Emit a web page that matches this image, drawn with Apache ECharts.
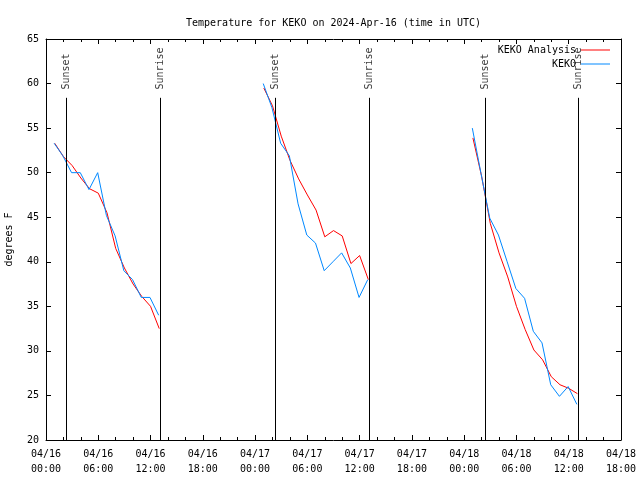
<!DOCTYPE html>
<html><head><meta charset="utf-8">
<script src="https://cdn.jsdelivr.net/npm/echarts@6/dist/echarts.min.js"></script>
<style>html,body{margin:0;padding:0;background:#fff}#c{width:640px;height:480px}</style>
</head><body><div id="c"></div>
<script>
// ---- data (times in UTC, "MM/DD HH:MM") ----
const analysisTimes = [
  ['04/16 01:00','04/16 02:00','04/16 03:00','04/16 04:00','04/16 05:00','04/16 06:00','04/16 07:00','04/16 08:00','04/16 09:00','04/16 10:00','04/16 11:00','04/16 12:00','04/16 13:00'],
  ['04/17 01:00','04/17 02:00','04/17 03:00','04/17 04:00','04/17 05:00','04/17 06:00','04/17 07:00','04/17 08:00','04/17 09:00','04/17 10:00','04/17 11:00','04/17 12:00','04/17 13:00'],
  ['04/18 01:00','04/18 02:00','04/18 03:00','04/18 04:00','04/18 05:00','04/18 06:00','04/18 07:00','04/18 08:00','04/18 09:00','04/18 10:00','04/18 11:00','04/18 12:00','04/18 13:00']
];
const analysisValues = [
  [53.3, 51.8, 50.8, 49.4, 48.2, 47.7, 45.5, 41.5, 39.3, 37.5, 36.1, 35.0, 32.5],
  [59.5, 57.5, 54.1, 51.4, 49.3, 47.5, 45.8, 42.8, 43.5, 42.9, 39.8, 40.7, 38.0],
  [53.9, 49.6, 44.3, 41.0, 38.3, 35.0, 32.4, 30.1, 29.0, 27.1, 26.2, 25.8, 25.2]
];
const obsTimes = [
  ['04/16 00:56','04/16 01:56','04/16 02:56','04/16 03:56','04/16 04:56','04/16 05:56','04/16 06:56','04/16 07:56','04/16 08:56','04/16 09:56','04/16 10:56','04/16 11:56','04/16 12:56'],
  ['04/17 00:56','04/17 01:56','04/17 02:56','04/17 03:56','04/17 04:56','04/17 05:56','04/17 06:56','04/17 07:56','04/17 08:56','04/17 09:56','04/17 10:56','04/17 11:56','04/17 12:56'],
  ['04/18 00:56','04/18 01:56','04/18 02:56','04/18 03:56','04/18 04:56','04/18 05:56','04/18 06:56','04/18 07:56','04/18 08:56','04/18 09:56','04/18 10:56','04/18 11:56','04/18 12:56']
];
const obsValues = [
  [53.3, 51.9, 50.0, 50.0, 48.1, 50.0, 45.2, 42.9, 39.0, 38.0, 36.0, 36.0, 34.0],
  [60.0, 57.3, 53.3, 51.9, 46.5, 43.0, 42.1, 39.0, 40.0, 41.0, 39.3, 36.0, 38.0],
  [55.0, 49.9, 44.9, 43.0, 40.0, 37.0, 35.9, 32.2, 30.9, 26.2, 24.9, 26.0, 24.0]
];
const sunTimes  = ['04/16 02:20','04/16 13:07','04/17 02:19','04/17 13:07','04/18 02:24','04/18 13:06'];
const sunLabels = ['Sunset','Sunrise','Sunset','Sunrise','Sunset','Sunrise'];
const seriesNames = ['KEKO Analysis','KEKO'];
const xMinHours = 0, xMaxHours = 66, xStepHours = 6;   // 04/16 00:00 .. 04/18 18:00
const yMin = 20, yMax = 65, yStep = 5;
const sunLineTop = 58.4, sunLabelBase = 59.1;

// ---- helpers ----
const BASE_DAY = 16;
function toHours(s) {
  const [md, hm] = s.split(' ');
  const [mo, d] = md.split('/').map(Number);
  const [h, m] = hm.split(':').map(Number);
  return (d - BASE_DAY) * 24 + h + m / 60;
}
function hoursToLabel(v) {
  const d = BASE_DAY + Math.floor(v / 24);
  const h = Math.round(v - Math.floor(v / 24) * 24);
  return '04/' + String(d).padStart(2, '0') + '\n' + String(h).padStart(2, '0') + ':00';
}
function buildData(timesByDay, valsByDay) {
  const out = [];
  timesByDay.forEach((arr, i) => {
    if (i > 0) out.push([toHours(arr[0]) - 1, '-']);
    arr.forEach((t, j) => out.push([toHours(t), valsByDay[i][j]]));
  });
  return out;
}

const FONT = 'DejaVu Sans Mono';
const txt = { color: '#000', fontFamily: FONT, fontSize: 10 };

const chart = echarts.init(document.getElementById('c'), null, { renderer: 'canvas' });

const axisCommonX = {
  type: 'value', min: xMinHours, max: xMaxHours, interval: xStepHours,
  axisLine: { show: true, onZero: false, lineStyle: { color: '#000', width: 1 } },
  axisTick: { show: true, inside: true, length: 5, lineStyle: { color: '#000' } },
  minorTick: { show: true, splitNumber: 3, length: 3, lineStyle: { color: '#000' } },
  splitLine: { show: false }
};
const axisCommonY = {
  type: 'value', min: yMin, max: yMax, interval: yStep,
  axisLine: { show: true, onZero: false, lineStyle: { color: '#000', width: 1 } },
  axisTick: { show: true, inside: true, length: 5, lineStyle: { color: '#000' } },
  splitLine: { show: false }
};

chart.setOption({
  animation: false,
  backgroundColor: '#fff',
  title: {
    text: 'Temperature for KEKO on 2024-Apr-16 (time in UTC)',
    left: 181, top: 13,
    textStyle: Object.assign({ fontWeight: 'normal' }, txt)
  },
  legend: {
    data: seriesNames, orient: 'vertical', right: 30, top: 44, align: 'right',
    padding: 0, icon: 'rect', itemWidth: 29, itemHeight: 1, itemGap: 2,
    textStyle: Object.assign({ lineHeight: 12 }, txt)
  },
  grid: { left: 46, right: 19, top: 39, bottom: 40, containLabel: false, outerBoundsMode: 'none' },
  xAxis: [
    Object.assign({}, axisCommonX, {
      position: 'bottom',
      axisLabel: Object.assign({ margin: 7, lineHeight: 15, formatter: hoursToLabel }, txt)
    }),
    Object.assign({}, axisCommonX, { position: 'top', axisLabel: { show: false } })
  ],
  yAxis: [
    Object.assign({}, axisCommonY, {
      position: 'left',
      name: 'degrees F', nameLocation: 'middle', nameRotate: 90, nameGap: 32,
      nameTextStyle: txt,
      axisLabel: Object.assign({ margin: 7 }, txt)
    }),
    Object.assign({}, axisCommonY, { position: 'right', axisLabel: { show: false } })
  ],
  series: [
    {
      name: seriesNames[0], type: 'line', xAxisIndex: 0, yAxisIndex: 0,
      data: buildData(analysisTimes, analysisValues),
      symbol: 'none', connectNulls: false,
      lineStyle: { color: '#ff0000', width: 1 }, itemStyle: { color: '#ff0000' },
      markLine: {
        silent: true, symbol: ['none', 'none'], label: { show: false },
        lineStyle: { color: '#000', width: 1, type: 'solid' },
        data: sunTimes.map(t => [{ coord: [toHours(t), sunLineTop] }, { coord: [toHours(t), yMin] }])
      }
    },
    {
      name: seriesNames[1], type: 'line', xAxisIndex: 0, yAxisIndex: 0,
      data: buildData(obsTimes, obsValues),
      symbol: 'none', connectNulls: false,
      lineStyle: { color: '#0088ff', width: 1 }, itemStyle: { color: '#0088ff' }
    },
    {
      name: 'sun', type: 'scatter', xAxisIndex: 0, yAxisIndex: 0,
      symbolSize: 0, silent: true,
      data: sunTimes.map((t, i) => ({ value: [toHours(t), sunLabelBase], name: sunLabels[i] })),
      label: Object.assign({
        show: true, position: 'inside', formatter: '{b}', rotate: 90,
        align: 'left', verticalAlign: 'middle', offset: [2, 0]
      }, txt)
    }
  ]
});
</script>
</body></html>
